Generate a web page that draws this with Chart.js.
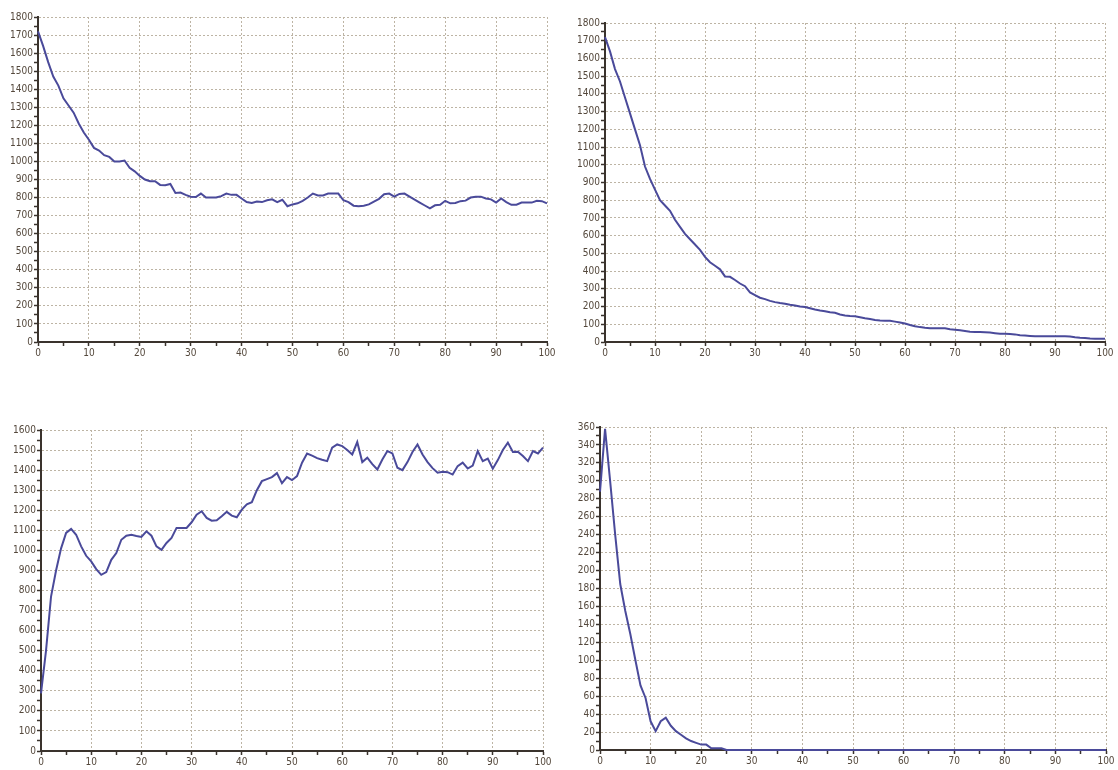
<!DOCTYPE html>
<html>
<head>
<meta charset="utf-8">
<script src="https://cdn.jsdelivr.net/npm/chart.js@4.4.1/dist/chart.umd.min.js"></script>
<style>
  body { margin: 0; background: #fff; width: 1118px; height: 770px; overflow: hidden; position: relative; }
  canvas { position: absolute; }
</style>
</head>
<body>
<canvas id="c1" width="560" height="385" style="left:0;top:0;width:560px;height:385px"></canvas>
<canvas id="c2" width="558" height="385" style="left:560px;top:0;width:558px;height:385px"></canvas>
<canvas id="c3" width="560" height="380" style="left:0;top:390px;width:560px;height:380px"></canvas>
<canvas id="c4" width="558" height="380" style="left:560px;top:390px;width:558px;height:380px"></canvas>
<script>
// x positions 0..100
const steps = Array.from({length: 101}, (_, i) => i);

// oben links
const seriesA = [1720,1640,1550,1470,1420,1350,1310,1270,1210,1160,
  1120,1075,1060,1035,1025,1000,1000,1005,965,945,
  920,900,890,890,870,868,875,825,828,815,
  805,803,822,800,800,800,808,822,815,815,
  795,775,770,778,775,785,790,775,788,752,
  762,768,782,800,822,812,812,822,822,822,
  785,775,755,752,755,762,778,793,818,822,
  805,820,822,805,788,772,756,740,757,760,
  782,768,770,780,783,800,805,805,795,790,
  772,795,775,760,760,772,772,772,782,780,768];

// oben rechts
const seriesB = [1720,1640,1540,1470,1380,1290,1200,1110,990,920,
  860,800,770,740,690,650,610,580,550,520,
  480,450,430,410,370,368,350,330,315,280,
  265,250,242,232,225,220,216,210,206,200,
  197,190,183,178,174,168,165,155,150,147,
  145,140,134,130,124,121,120,120,115,110,
  104,96,89,84,80,78,77,77,77,72,
  69,66,62,58,57,56,55,53,50,47,
  46,45,43,38,36,34,32,32,32,32,
  32,32,32,31,27,24,23,20,19,19,19];

// unten links
const seriesC = [287,500,770,900,1010,1087,1107,1078,1020,973,
  945,907,878,892,953,987,1053,1073,1078,1072,
  1067,1095,1073,1020,1003,1037,1062,1112,1112,1112,
  1140,1178,1195,1162,1148,1150,1170,1192,1173,1165,
  1203,1230,1240,1300,1345,1355,1365,1385,1335,1365,
  1350,1370,1437,1483,1472,1460,1452,1445,1512,1528,
  1520,1500,1478,1540,1440,1462,1430,1403,1453,1495,
  1483,1412,1400,1440,1490,1528,1478,1440,1410,1387,
  1392,1390,1378,1420,1437,1408,1423,1495,1445,1458,
  1407,1450,1500,1537,1490,1492,1470,1445,1495,1483,1512];

// unten rechts
const seriesD = [288,358,300,240,185,155,129,100,72,58,
  32,21,32,36,27,21,17,13,10,8,
  6,6,2,2,2,0,0,0,0,0,
  0,0,0,0,0,0,0,0,0,0,
  0,0,0,0,0,0,0,0,0,0,
  0,0,0,0,0,0,0,0,0,0,
  0,0,0,0,0,0,0,0,0,0,
  0,0,0,0,0,0,0,0,0,0,
  0,0,0,0,0,0,0,0,0,0,
  0,0,0,0,0,0,0,0,0,0,0];

const lineColor = '#4a4a9a';
const axisColor = '#3a332d';
const gridColor = '#bdb4a4';
const labelColor = '#54483c';
const tickFont = { family: "'Liberation Sans Narrow', 'DejaVu Sans Condensed', Arial, sans-serif", size: 10 };

function makeChart(id, values, yMax, yMajor, box) {
    const ctx = document.getElementById(id).getContext('2d');
    return new Chart(ctx, {
        type: 'line',
        data: {
            datasets: [{
                data: steps.map((x, i) => ({ x: x, y: values[i] })),
                borderColor: lineColor,
                borderWidth: 2,
                pointRadius: 0,
                tension: 0,
                fill: false,
                clip: false
            }]
        },
        options: {
            responsive: false,
            animation: false,
            layout: { padding: { left: 0, top: box.top, right: box.right, bottom: 0 } },
            plugins: { legend: { display: false }, tooltip: { enabled: false } },
            scales: {
                x: {
                    type: 'linear',
                    min: 0,
                    max: 100,
                    afterFit: s => { s.height = box.bottom; },
                    ticks: {
                        stepSize: 5,
                        autoSkip: false,
                        maxRotation: 0,
                        padding: 1,
                        color: labelColor,
                        font: tickFont,
                        callback: v => (v % 10 === 0 ? String(v) : '')
                    },
                    grid: {
                        color: c => (c.tick && c.tick.value % 10 === 0 ? gridColor : 'rgba(0,0,0,0)'),
                        tickColor: axisColor,
                        tickLength: 4,
                        tickWidth: 1.5,
                        tickBorderDash: []
                    },
                    border: { color: axisColor, width: 2, dash: [2, 2] }
                },
                y: {
                    min: 0,
                    max: yMax,
                    afterFit: s => { s.width = box.left; },
                    ticks: {
                        stepSize: yMajor / 2,
                        autoSkip: false,
                        padding: 1,
                        color: labelColor,
                        font: tickFont,
                        callback: v => (v % yMajor === 0 ? String(v) : '')
                    },
                    grid: {
                        color: c => (c.tick && c.tick.value % yMajor === 0 && c.tick.value !== 0 ? gridColor : 'rgba(0,0,0,0)'),
                        tickColor: axisColor,
                        tickLength: 4,
                        tickWidth: 1.5,
                        tickBorderDash: []
                    },
                    border: { color: axisColor, width: 2, dash: [2, 2] }
                }
            }
        }
    });
}

makeChart('c1', seriesA, 1800, 100, { left: 38, top: 17, right: 13, bottom: 43 });
makeChart('c2', seriesB, 1800, 100, { left: 45, top: 23, right: 13, bottom: 43 });
makeChart('c3', seriesC, 1600, 100, { left: 41, top: 40, right: 17, bottom: 19 });
makeChart('c4', seriesD, 360, 20, { left: 40, top: 37, right: 12, bottom: 20 });
</script>
</body>
</html>
